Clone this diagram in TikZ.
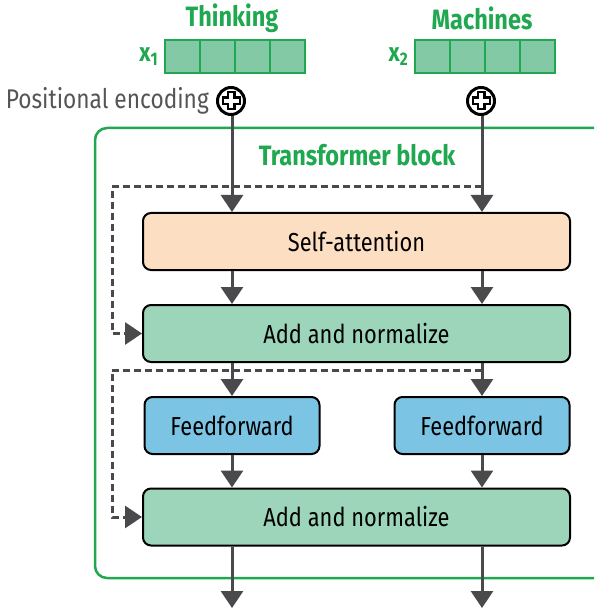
\documentclass[tikz,border=0pt]{standalone}
\usepackage{fontspec}
\setmainfont{Fira Sans}[FakeStretch=0.84]
\usetikzlibrary{arrows.meta,positioning}
\definecolor{tgreen}{HTML}{1FA84F}
\definecolor{cellgreen}{HTML}{84C9A6}
\definecolor{peach}{HTML}{FCDFC3}
\definecolor{mint}{HTML}{9DD5BB}
\definecolor{sky}{HTML}{7CC4E4}
\definecolor{arrowgray}{HTML}{4A4A4C}
\definecolor{labelgray}{HTML}{555555}
\tikzset{
  blk/.style={draw=black, line width=2pt, rounded corners=8pt, minimum height=57pt,
    inner sep=0pt, font=\fontsize{26}{30}\selectfont},
  flow/.style={arrowgray, line width=3pt, -{Triangle[length=17pt,width=22pt]}},
  skip/.style={arrowgray, line width=3pt, dash pattern=on 7pt off 4pt,
    -{Triangle[length=17pt,width=22pt]}},
  cell/.style={draw=tgreen, fill=cellgreen, line width=2.5pt, minimum width=35pt,
    minimum height=33pt, inner sep=0pt},
  word/.style={text=tgreen, font=\bfseries\fontsize{28}{32}\selectfont},
  pe/.style={draw, circle, line width=3pt, minimum size=27pt, fill=white, inner sep=0pt},
}
\begin{document}
\begin{tikzpicture}[x=1pt,y=-1pt]
    \clip (0,0) rectangle (594,612);
    \draw[tgreen, line width=2.5pt, rounded corners=12pt] (95,128) rectangle (608,578);
    \node[word] (trans) at (357,155) {Transformer block};

    \node[word] (w1) at (232,18) {Thinking};
    \node[word] (w2) at (482,18) {Machines};
    \foreach \i in {0,...,3} {
        \node[cell] (t\i) at (182.5+35*\i,56.5) {};
        \node[cell] (m\i) at (432.5+35*\i,56.5) {};
    }
    \node[word, font=\bfseries\fontsize{26}{30}\selectfont, left=2pt of t0] (x1) {x\textsubscript{1}};
    \node[word, font=\bfseries\fontsize{26}{30}\selectfont, left=2pt of m0] (x2) {x\textsubscript{2}};

    \node[pe] (pe1) at (231,101) {};
    \node[pe] (pe2) at (481,101) {};
    \foreach \p in {pe1,pe2} {
        \draw[line width=9pt] (\p.center) +(-9.5,0) -- +(9.5,0) +(0,-9.5) -- +(0,9.5);
        \draw[white, line width=3.5pt] (\p.center) +(-7.5,0) -- +(7.5,0) +(0,-7.5) -- +(0,7.5);
    }
    \node[left=7pt of pe1, text=labelgray, font=\fontsize{27}{30}\selectfont, inner sep=0pt] (pelabel) {Positional encoding};

    \node[blk, fill=peach, minimum width=427pt] (sa) at (356.5,241.5) {Self-attention};
    \node[blk, fill=mint, minimum width=427pt] (an1) at (356.5,333.5) {Add and normalize};
    \node[blk, fill=sky, minimum width=175pt] (ff1) at (232,425.5) {Feedforward};
    \node[blk, fill=sky, minimum width=175pt] (ff2) at (482,425.5) {Feedforward};
    \node[blk, fill=mint, minimum width=427pt] (an2) at (356.5,517) {Add and normalize};

    \coordinate (s1) at (482,187);
    \coordinate (k1) at (112,187);
    \coordinate (s2) at (482,370);
    \coordinate (k2) at (112,370);
    \draw[skip] (s1) -- (k1) |- (an1.west);
    \draw[skip] (s2) -- (k2) |- (an2.west);

    \draw[flow] (pe1.south -| ff1) -- (sa.north -| ff1);
    \draw[flow] (pe2.south -| ff2) -- (sa.north -| ff2);
    \draw[flow] (sa.south -| ff1) -- (an1.north -| ff1);
    \draw[flow] (sa.south -| ff2) -- (an1.north -| ff2);
    \draw[flow] (an1.south -| ff1) -- (ff1);
    \draw[flow] (an1.south -| ff2) -- (ff2);
    \draw[flow] (ff1) -- (an2.north -| ff1);
    \draw[flow] (ff2) -- (an2.north -| ff2);

    \coordinate (out1) at (232,608);
    \coordinate (out2) at (482,608);
    \draw[flow] (an2.south -| out1) -- (out1);
    \draw[flow] (an2.south -| out2) -- (out2);
\end{tikzpicture}
\end{document}
